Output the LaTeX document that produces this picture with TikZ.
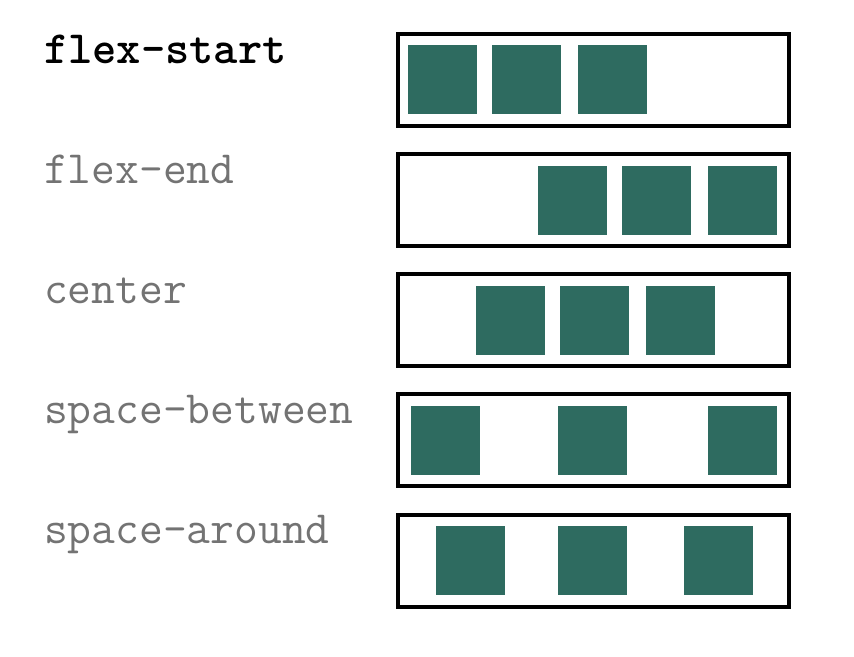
\documentclass[tikz,border=0pt]{standalone}
\usepackage{fontspec}
\usepackage{tikz}
\usetikzlibrary{positioning}
\definecolor{boxteal}{RGB}{46,107,96}
\definecolor{labelgray}{RGB}{115,115,115}

\begin{document}
\begin{tikzpicture}[x=1pt, y=-1pt,
		track/.style={draw=black, line width=4pt, minimum width=391pt, minimum height=92pt, inner sep=0pt},
		item/.style={fill=boxteal, minimum size=69pt, inner sep=0pt},
		lbl/.style={anchor=base west, inner sep=0pt, font=\ttfamily\fontsize{46.2}{47}\selectfont, text=labelgray}]
		\useasboundingbox (0,0) rectangle (854,656);
		
		\node[lbl, text=black, font=\ttfamily\bfseries\fontsize{46.2}{47}\selectfont] (l1) at (44,63) {flex-start};
		\node[lbl] (l2) at (44,183) {flex-end};
		\node[lbl] (l3) at (44,303) {center};
		\node[lbl] (l4) at (44,423) {space-between};
		\node[lbl] (l5) at (44,543) {space-around};
		
		\node[track] (t1) at (593.5,80) {};
		\node[track] (t2) at (593.5,200) {};
		\node[track] (t3) at (593.5,320) {};
		\node[track] (t4) at (593.5,440) {};
		\node[track] (t5) at (593.5,561) {};
		
		\node[item] (a1) at (442,79) {};
		\node[item] (a2) at (526,79) {};
		\node[item] (a3) at (612,79) {};
		
		\node[item] (b1) at (572,200) {};
		\node[item] (b2) at (656,200) {};
		\node[item] (b3) at (742,200) {};
		
		\node[item] (c1) at (510,320) {};
		\node[item] (c2) at (594,320) {};
		\node[item] (c3) at (680,320) {};
		
		\node[item] (d1) at (445,440.5) {};
		\node[item] (d2) at (592.5,440.5) {};
		\node[item] (d3) at (742.5,440.5) {};
		
		\node[item] (e1) at (470.5,560.5) {};
		\node[item] (e2) at (592.5,560.5) {};
		\node[item] (e3) at (718.5,560.5) {};
	\end{tikzpicture}
\end{document}
